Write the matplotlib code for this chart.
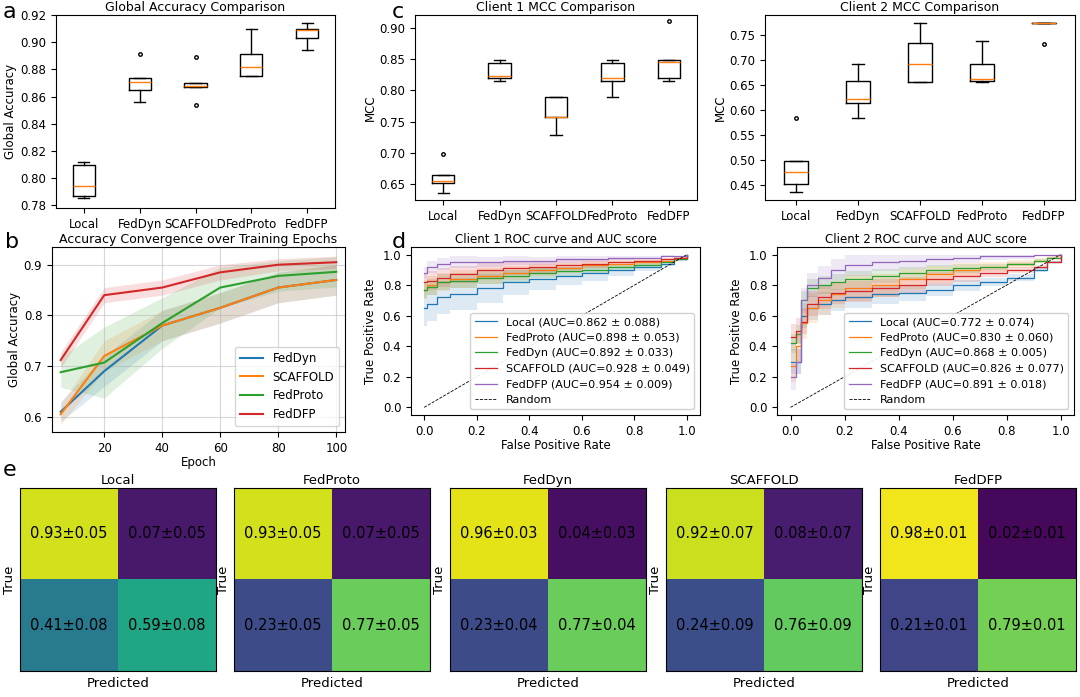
import numpy as np
import matplotlib
matplotlib.use("Agg")
import matplotlib.pyplot as plt

plt.rcParams['font.family'] = ['DejaVu Sans']
plt.rcParams['font.size'] = 8.5

methods_box = ["Local", "FedDyn", "SCAFFOLD", "FedProto", "FedDFP"]
global_acc = [
    [0.785, 0.787, 0.794, 0.810, 0.812],
    [0.856, 0.865, 0.871, 0.874, 0.891],
    [0.854, 0.867, 0.868, 0.870, 0.889],
    [0.875, 0.875, 0.882, 0.891, 0.910],
    [0.894, 0.903, 0.909, 0.910, 0.914],
]
mcc_c1 = [
    [0.636, 0.652, 0.655, 0.665, 0.698],
    [0.814, 0.820, 0.822, 0.843, 0.848],
    [0.728, 0.758, 0.758, 0.789, 0.789],
    [0.789, 0.815, 0.820, 0.843, 0.848],
    [0.814, 0.820, 0.845, 0.848, 0.910],
]
mcc_c2 = [
    [0.435, 0.452, 0.475, 0.498, 0.585],
    [0.585, 0.615, 0.622, 0.658, 0.693],
    [0.655, 0.655, 0.693, 0.735, 0.775],
    [0.655, 0.658, 0.662, 0.693, 0.738],
    [0.732, 0.775, 0.775, 0.775, 0.775],
]

# convergence
epochs = [5, 20, 40, 60, 80, 100]
conv_names = ["FedDyn", "SCAFFOLD", "FedProto", "FedDFP"]
conv_mean = [
    [0.610, 0.690, 0.780, 0.815, 0.855, 0.870],
    [0.605, 0.720, 0.780, 0.815, 0.855, 0.870],
    [0.688, 0.707, 0.785, 0.855, 0.878, 0.886],
    [0.712, 0.840, 0.855, 0.885, 0.900, 0.905],
]
conv_std = [
    [0.02, 0.03, 0.03, 0.03, 0.03, 0.03],
    [0.02, 0.03, 0.03, 0.03, 0.03, 0.03],
    [0.03, 0.07, 0.05, 0.04, 0.03, 0.03],
    [0.015, 0.015, 0.015, 0.015, 0.012, 0.012],
]
conv_colors = ["#1f77b4", "#ff7f0e", "#2ca02c", "#d62728"]

# ROC
roc_names = ["Local", "FedProto", "FedDyn", "SCAFFOLD", "FedDFP"]
roc_colors = ["#1f77b4", "#ff7f0e", "#2ca02c", "#d62728", "#9467bd"]
auc_c1 = ["0.862 ± 0.088", "0.898 ± 0.053", "0.892 ± 0.033", "0.928 ± 0.049", "0.954 ± 0.009"]
auc_c2 = ["0.772 ± 0.074", "0.830 ± 0.060", "0.868 ± 0.005", "0.826 ± 0.077", "0.891 ± 0.018"]
fpr_c1 = [0, 0.01, 0.05, 0.1, 0.2, 0.3, 0.4, 0.5, 0.6, 0.7, 0.8, 0.9, 0.95, 1.0]
tpr_c1 = [
    [0.65, 0.68, 0.72, 0.74, 0.78, 0.82, 0.84, 0.86, 0.88, 0.90, 0.92, 0.94, 0.97, 1.0],
    [0.77, 0.80, 0.82, 0.84, 0.86, 0.88, 0.90, 0.91, 0.93, 0.94, 0.95, 0.96, 0.98, 1.0],
    [0.77, 0.79, 0.82, 0.83, 0.85, 0.86, 0.88, 0.89, 0.90, 0.92, 0.93, 0.95, 0.97, 1.0],
    [0.82, 0.83, 0.85, 0.87, 0.90, 0.91, 0.92, 0.93, 0.94, 0.95, 0.96, 0.97, 0.98, 1.0],
    [0.88, 0.92, 0.94, 0.95, 0.95, 0.96, 0.96, 0.97, 0.97, 0.98, 0.98, 0.99, 0.99, 1.0],
]
std_c1 = [0.11, 0.06, 0.05, 0.06, 0.04]
fpr_c2 = [0, 0.02, 0.04, 0.06, 0.1, 0.15, 0.2, 0.3, 0.4, 0.5, 0.6, 0.7, 0.8, 0.9, 0.95, 1.0]
tpr_c2 = [
    [0.30, 0.30, 0.60, 0.65, 0.68, 0.70, 0.72, 0.74, 0.75, 0.77, 0.80, 0.82, 0.85, 0.90, 0.95, 1.0],
    [0.27, 0.40, 0.55, 0.65, 0.70, 0.74, 0.78, 0.80, 0.84, 0.87, 0.90, 0.92, 0.94, 0.96, 0.98, 1.0],
    [0.42, 0.48, 0.70, 0.78, 0.80, 0.82, 0.84, 0.86, 0.88, 0.90, 0.91, 0.92, 0.94, 0.96, 0.98, 1.0],
    [0.46, 0.50, 0.56, 0.68, 0.72, 0.75, 0.76, 0.78, 0.80, 0.84, 0.86, 0.88, 0.90, 0.92, 0.95, 1.0],
    [0.20, 0.30, 0.70, 0.80, 0.85, 0.90, 0.93, 0.95, 0.96, 0.97, 0.98, 0.99, 0.99, 1.0, 1.0, 1.0],
]
std_c2 = [0.08, 0.10, 0.06, 0.08, 0.08]

# confusion matrices
cm_names = ["Local", "FedProto", "FedDyn", "SCAFFOLD", "FedDFP"]
cm_vals = [[0.93, 0.07, 0.41, 0.59], [0.93, 0.07, 0.23, 0.77], [0.96, 0.04, 0.23, 0.77],
           [0.92, 0.08, 0.24, 0.76], [0.98, 0.02, 0.21, 0.79]]
cm_std = [[0.05, 0.05, 0.08, 0.08], [0.05, 0.05, 0.05, 0.05], [0.03, 0.03, 0.04, 0.04],
          [0.07, 0.07, 0.09, 0.09], [0.01, 0.01, 0.01, 0.01]]

W, H = 1080, 697
fig = plt.figure(figsize=(W / 100, H / 100), dpi=100)


def ax_px(x0, y0, x1, y1):
    return fig.add_axes([x0 / W, 1 - y1 / H, (x1 - x0) / W, (y1 - y0) / H])


def boxplot(ax, data, title, ylabel):
    ax.boxplot(data, tick_labels=methods_box, widths=0.4,
               medianprops=dict(color="#ff7f0e", lw=1),
               flierprops=dict(marker="o", markersize=2.5))
    ax.set_title(title, fontsize=9, pad=3)
    ax.set_ylabel(ylabel, labelpad=2)


# a
ax = ax_px(56, 15, 335, 208)
boxplot(ax, global_acc, "Global Accuracy Comparison", "Global Accuracy")
ax.set_ylim(0.778, 0.92)
ax.set_yticks(np.arange(0.78, 0.921, 0.02))

# b
ax = ax_px(52, 247, 345, 432)
for name, m, s, c in zip(conv_names, conv_mean, conv_std, conv_colors):
    m, s = np.array(m), np.array(s)
    ax.plot(epochs, m, color=c, lw=1.5, label=name)
    ax.fill_between(epochs, m - s, m + s, color=c, alpha=0.15, lw=0)
ax.set_title("Accuracy Convergence over Training Epochs", fontsize=9, pad=3)
ax.set_xlabel("Epoch", labelpad=1)
ax.set_ylabel("Global Accuracy", labelpad=2)
ax.set_ylim(0.57, 0.935)
ax.set_xlim(2, 103)
ax.set_xticks([20, 40, 60, 80, 100])
ax.set_yticks([0.6, 0.7, 0.8, 0.9])
ax.grid(True, alpha=0.5)
ax.legend(loc="lower right", fontsize=8.5)

# c
ax = ax_px(415, 15, 697, 200)
boxplot(ax, mcc_c1, "Client 1 MCC Comparison", "MCC")
ax.set_ylim(0.625, 0.92)
ax = ax_px(765, 15, 1075, 200)
boxplot(ax, mcc_c2, "Client 2 MCC Comparison", "MCC")
ax.set_ylim(0.42, 0.79)
ax.set_yticks(np.arange(0.45, 0.76, 0.05))


def roc(ax, fpr, tprs, stds, aucs, title):
    fpr = np.array(fpr)
    for name, t, s, c, a in zip(roc_names, tprs, stds, roc_colors, aucs):
        t = np.array(t)
        ax.plot(fpr, t, color=c, lw=0.9, drawstyle="steps-post", label=f"{name} (AUC={a})")
        ax.fill_between(fpr, t - s * (1.05 - fpr), np.minimum(t + s * (1.05 - fpr), 1.0),
                        color=c, alpha=0.15, lw=0, step="post")
    ax.plot([0, 1], [0, 1], "k--", lw=0.6, label="Random")
    ax.set_title(title, fontsize=8.5, pad=3)
    ax.set_xlabel("False Positive Rate", labelpad=1)
    ax.set_ylabel("True Positive Rate")
    ax.set_xlim(-0.05, 1.05)
    ax.set_ylim(-0.05, 1.05)
    ax.legend(loc="lower right", fontsize=8, framealpha=0.9)


ax = ax_px(411, 247, 700, 415)
roc(ax, fpr_c1, tpr_c1, std_c1, auc_c1, "Client 1 ROC curve and AUC score")
ax = ax_px(777, 247, 1074, 415)
roc(ax, fpr_c2, tpr_c2, std_c2, auc_c2, "Client 2 ROC curve and AUC score")

# e
xs = [20, 234, 450, 666, 880]
for x0, name, v, s in zip(xs, cm_names, cm_vals, cm_std):
    ax = ax_px(x0, 488, x0 + 196, 671)
    ax.imshow(np.array(v).reshape(2, 2), cmap="viridis", vmin=0, vmax=1, aspect="auto")
    for k in range(4):
        i, j = divmod(k, 2)
        ax.text(j, i, f"{v[k]:.2f}±{s[k]:.2f}", ha="center", va="center", fontsize=10.5, color="black")
    ax.set_xticks([])
    ax.set_yticks([])
    ax.set_title(name, fontsize=9.5, pad=3)
    ax.set_xlabel("Predicted", fontsize=9.5, labelpad=4)
    ax.set_ylabel("True", fontsize=9.5, labelpad=3)

for lbl, x, y in [("a", 3, 2), ("b", 5, 232), ("c", 392, 2), ("d", 392, 232), ("e", 3, 460)]:
    fig.text(x / W, 1 - y / H, lbl, fontsize=16, va="top")

fig.savefig("out.png", dpi=100)
